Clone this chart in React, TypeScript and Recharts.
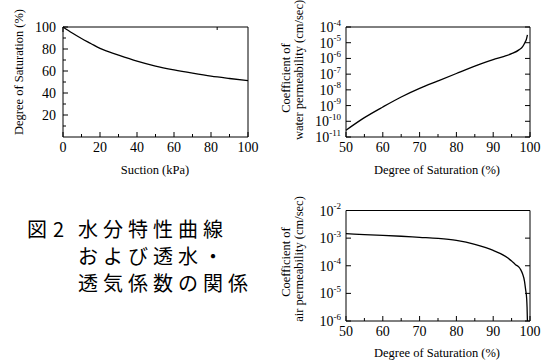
import React from "react";
import { LineChart, Line, XAxis, YAxis, Label } from "recharts";

// water retention curve
const suction = [0, 5, 10, 15, 20, 30, 40, 50, 60, 70, 80, 90, 100];
const saturation = [100, 94.5, 89.5, 85, 80.5, 74.5, 69, 64.5, 61, 58, 55.3, 53.2, 51.3];

// water permeability vs saturation
const satWater = [50, 55, 60, 65, 70, 75, 80, 85, 90, 93, 95, 97, 98, 98.6, 99, 99.3];
const waterPerm = [
  2.7e-11, 1.7e-10, 8.1e-10, 3.5e-9, 1.23e-8, 3.7e-8, 1.1e-7, 3.2e-7, 8.3e-7, 1.35e-6, 2.0e-6,
  3.5e-6, 5.6e-6, 1.0e-5, 1.6e-5, 3.2e-5,
];

// air permeability vs saturation
const satAir = [50, 55, 60, 65, 70, 75, 80, 85, 88, 90, 92, 94, 95, 96, 97, 97.5, 98, 98.5, 98.8, 99.1, 99.2, 99.3];
const airPerm = [
  1.45e-3, 1.35e-3, 1.26e-3, 1.17e-3, 1.07e-3, 9.8e-4, 8.3e-4, 6.0e-4, 4.5e-4, 3.6e-4, 2.75e-4,
  1.9e-4, 1.48e-4, 1.12e-4, 8.9e-5, 7.1e-5, 5.0e-5, 2.8e-5, 1.4e-5, 6.3e-6, 3.2e-6, 1.0e-6,
];

const suctionTicks = [0, 10, 20, 30, 40, 50, 60, 70, 80, 90, 100];
const suctionLabels = [0, 20, 40, 60, 80, 100];
const degTicks = [10, 20, 30, 40, 50, 60, 70, 80, 90, 100];
const degLabels = [20, 40, 60, 80, 100];
const satTicks = [50, 55, 60, 65, 70, 75, 80, 85, 90, 95, 100];
const satLabels = [50, 60, 70, 80, 90, 100];
const waterTicks = [1e-11, 1e-10, 1e-9, 1e-8, 1e-7, 1e-6, 1e-5, 1e-4];
const airTicks = [1e-6, 1e-5, 1e-4, 1e-3, 1e-2];

const captionLines = ["水分特性曲線", "および透水・", "透気係数の関係"];

const serif = "'Liberation Serif', 'DejaVu Serif', serif";
const tickStyle = { fontFamily: serif, fontSize: 14 };
const titleStyle = { fontFamily: serif, fontSize: 12.5 };

const bottomTick = (labels: number[]) => (p: any) => {
  const v = p.payload.value;
  const major = labels.includes(v);
  return (
    <g>
      <line x1={p.x} x2={p.x} y1={p.y} y2={p.y - (major ? 5 : 3)} stroke="#000" />
      {major && (
        <text x={p.x} y={p.y + 15} textAnchor="middle" style={tickStyle} fill="#000">
          {v}
        </text>
      )}
    </g>
  );
};

const topTick = (labels: number[]) => (p: any) => {
  const major = labels.includes(p.payload.value);
  return <line x1={p.x} x2={p.x} y1={p.y} y2={p.y + (major ? 5 : 3)} stroke="#000" />;
};

const leftTick = (labels: number[]) => (p: any) => {
  const v = p.payload.value;
  const major = labels.includes(v);
  return (
    <g>
      <line x1={p.x} x2={p.x + (major ? 5 : 3)} y1={p.y} y2={p.y} stroke="#000" />
      {major && (
        <text x={p.x - 7} y={p.y + 5} textAnchor="end" style={tickStyle} fill="#000">
          {v}
        </text>
      )}
    </g>
  );
};

const rightTick = (labels: number[]) => (p: any) => {
  const major = labels.includes(p.payload.value);
  return <line x1={p.x} x2={p.x - (major ? 5 : 3)} y1={p.y} y2={p.y} stroke="#000" />;
};

const logLeftTick = (p: any) => {
  const exp = Math.round(Math.log10(p.payload.value));
  return (
    <g>
      <line x1={p.x} x2={p.x + 5} y1={p.y} y2={p.y} stroke="#000" />
      <text x={p.x - 5} y={p.y + 5} textAnchor="end" style={tickStyle} fill="#000">
        <tspan>10</tspan>
        <tspan dy={-6.5} style={{ fontSize: 9 }}>
          {String(exp)}
        </tspan>
      </text>
    </g>
  );
};

const logRightTick = (p: any) => (
  <line x1={p.x} x2={p.x - 5} y1={p.y} y2={p.y} stroke="#000" />
);

const titleText = (x: number, y: number, text: string, rotate = false) => (
  <text
    key={text}
    x={x}
    y={y}
    textAnchor="middle"
    dominantBaseline="central"
    style={titleStyle}
    fill="#000"
    transform={rotate ? `rotate(-90, ${x}, ${y})` : undefined}
  >
    {text}
  </text>
);

// all axes are 1px thick so the margins alone set the plot box
const axisBase = {
  type: "number" as const,
  interval: 0 as const,
  tickSize: 0,
  tickMargin: 0,
  tickLine: false,
  axisLine: { stroke: "#000" },
};

function RetentionChart() {
  const data = suction.map((s, i) => ({ s, v: saturation[i] }));
  return (
    <LineChart
      width={270}
      height={185}
      data={data}
      margin={{ top: 26, left: 62, right: 21, bottom: 47 }}
      style={{ position: "absolute", left: 0, top: 0 }}
    >
      <XAxis {...axisBase} dataKey="s" domain={[0, 100]} ticks={suctionTicks} height={1} tick={bottomTick(suctionLabels)}>
        <Label content={() => titleText(155, 170, "Suction (kPa)")} />
      </XAxis>
      <XAxis
        {...axisBase}
        xAxisId="top"
        orientation="top"
        domain={[0, 100]}
        ticks={suctionTicks}
        height={1}
        tick={topTick(suctionLabels)}
      />
      <YAxis {...axisBase} domain={[0, 100]} ticks={degTicks} width={1} tick={leftTick(degLabels)}>
        <Label content={() => titleText(18.5, 72, "Degree of Saturation (%)", true)} />
      </YAxis>
      <YAxis
        {...axisBase}
        yAxisId="right"
        orientation="right"
        domain={[0, 100]}
        ticks={degTicks}
        width={1}
        tick={rightTick(degLabels)}
      />
      <Line dataKey="v" type="monotone" stroke="#000" strokeWidth={1.3} dot={false} isAnimationActive={false} />
    </LineChart>
  );
}

function PermChart(props: {
  sat: number[];
  perm: number[];
  ticks: number[];
  top: number;
  height: number;
  marginTop: number;
  marginBottom: number;
  line2: string;
  line1Y: number;
  line2Y: number;
  titleY: number;
}) {
  const data = props.sat.map((s, i) => ({ s, k: props.perm[i] }));
  const dom = [props.ticks[0], props.ticks[props.ticks.length - 1]];
  return (
    <LineChart
      width={283}
      height={props.height}
      data={data}
      margin={{ top: props.marginTop, left: 75, right: 22, bottom: props.marginBottom }}
      style={{ position: "absolute", left: 270, top: props.top }}
    >
      <XAxis {...axisBase} dataKey="s" domain={[50, 100]} ticks={satTicks} height={1} tick={bottomTick(satLabels)}>
        <Label content={() => titleText(167, props.titleY, "Degree of Saturation (%)")} />
      </XAxis>
      <XAxis
        {...axisBase}
        xAxisId="top"
        orientation="top"
        domain={[50, 100]}
        ticks={satTicks}
        height={1}
        tick={topTick(satLabels)}
      />
      <YAxis {...axisBase} scale="log" domain={dom} allowDataOverflow ticks={props.ticks} width={1} tick={logLeftTick}>
        <Label
          content={() => (
            <g>
              {titleText(16, props.line1Y, "Coefficient of", true)}
              {titleText(29, props.line2Y, props.line2, true)}
            </g>
          )}
        />
      </YAxis>
      <YAxis
        {...axisBase}
        yAxisId="right"
        orientation="right"
        scale="log"
        domain={dom}
        allowDataOverflow
        ticks={props.ticks}
        width={1}
        tick={logRightTick}
      />
      <Line dataKey="k" type="monotone" stroke="#000" strokeWidth={1.3} dot={false} isAnimationActive={false} />
    </LineChart>
  );
}

export default function App() {
  return (
    <div
      style={{
        position: "absolute",
        left: 0,
        top: 0,
        width: 553,
        height: 360,
        background: "#fff",
        overflow: "hidden",
      }}
    >
      <RetentionChart />
      <PermChart
        sat={satWater}
        perm={waterPerm}
        ticks={waterTicks}
        top={0}
        height={185}
        marginTop={26}
        marginBottom={47}
        line2="water permeability (cm/sec)"
        line1Y={78}
        line2Y={70}
        titleY={170}
      />
      <PermChart
        sat={satAir}
        perm={airPerm}
        ticks={airTicks}
        top={185}
        height={175}
        marginTop={24.5}
        marginBottom={38}
        line2="air permeability (cm/sec)"
        line1Y={77}
        line2Y={74}
        titleY={168}
      />
      <div
        style={{
          position: "absolute",
          left: 27,
          top: 215,
          fontFamily: "'Noto Sans CJK JP', sans-serif",
          fontSize: 20,
          lineHeight: "27px",
          color: "#000",
          whiteSpace: "nowrap",
        }}
      >
        <div style={{ position: "relative", height: 27 }}>
          <span style={{ position: "absolute", left: 0 }}>図</span>
          <span style={{ position: "absolute", left: 26 }}>2</span>
          <span style={{ position: "absolute", left: 51, letterSpacing: 5 }}>{captionLines[0]}</span>
        </div>
        <div style={{ paddingLeft: 51, letterSpacing: 5 }}>{captionLines[1]}</div>
        <div style={{ paddingLeft: 51, letterSpacing: 5 }}>{captionLines[2]}</div>
      </div>
    </div>
  );
}
